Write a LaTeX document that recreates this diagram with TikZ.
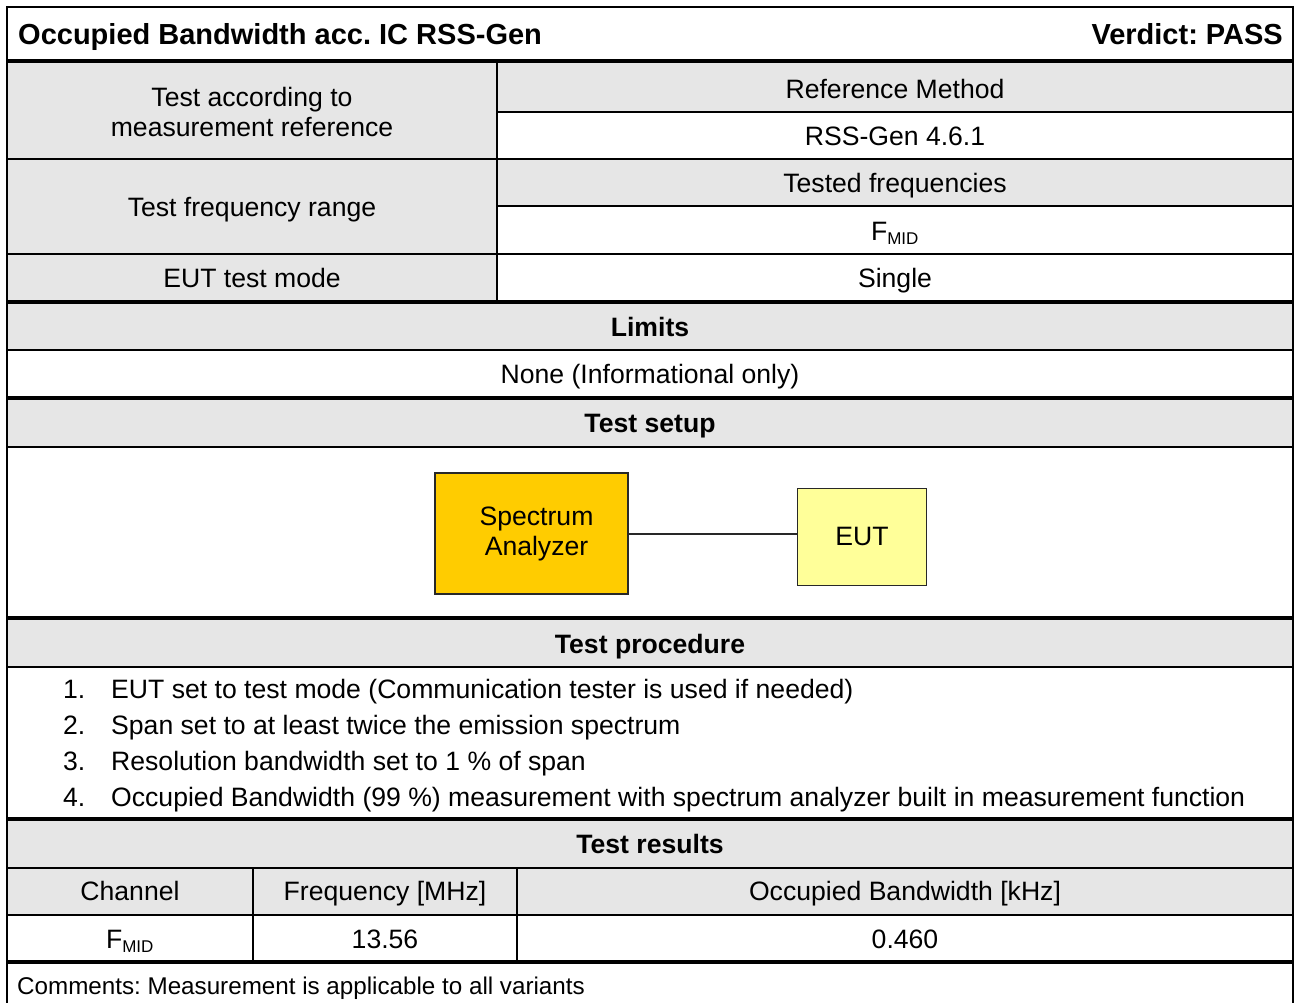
\documentclass[tikz,border=0pt]{standalone}
\usepackage{fontspec}
\setmainfont{Liberation Sans}
\frenchspacing
\definecolor{hdrgray}{RGB}{230,230,230}
\definecolor{sagold}{RGB}{255,204,0}
\definecolor{eutyellow}{RGB}{255,255,153}
\definecolor{boxline}{RGB}{40,40,40}
\begin{document}
\begin{tikzpicture}[x=1pt,y=-1pt,
  body/.style={inner sep=0pt, anchor=base, font=\fontsize{26.6}{30}\selectfont},
  bodyl/.style={body, anchor=base west},
  hdr/.style={body, font=\fontsize{26.6}{30}\selectfont\bfseries},
  ttl/.style={inner sep=0pt, font=\fontsize{29}{33}\selectfont\bfseries},
  cmt/.style={inner sep=0pt, anchor=base west, font=\fontsize{24.2}{28}\selectfont},
  thinline/.style={line width=1.8pt},
  thickline/.style={line width=3.2pt},
  colline/.style={line width=1.6pt},
  frame/.style={line width=2.6pt},
  cellfill/.style={fill=hdrgray, draw=none},
  devbox/.style={draw=boxline, line width=1.4pt, inner sep=0pt, align=center,
    font=\fontsize{26.6}{30}\selectfont},
  wire/.style={draw=boxline, line width=1.2pt}
]
\frenchspacing
\useasboundingbox (0,0) rectangle (1296,1003);
\fill[white] (0,0) rectangle (1296,1003);

% ---- gray fills ----
\path[cellfill] (7,62) rectangle (497,302);
\path[cellfill] (497,62) rectangle (1293,112);
\path[cellfill] (497,159) rectangle (1293,206);
\path[cellfill] (7,302) rectangle (1293,350);
\path[cellfill] (7,398) rectangle (1293,447);
\path[cellfill] (7,618) rectangle (1293,667);
\path[cellfill] (7,819) rectangle (1293,915);

% ---- horizontal rules ----
\draw[line width=3.6pt] (7,61) -- (1293,61);
\draw[thinline] (497,112) -- (1293,112);
\draw[thinline] (7,159) -- (1293,159);
\draw[thinline] (497,206) -- (1293,206);
\draw[thinline] (7,254) -- (1293,254);
\draw[thickline] (7,302) -- (1293,302);
\draw[thinline] (7,350) -- (1293,350);
\draw[thickline] (7,398) -- (1293,398);
\draw[thinline] (7,447) -- (1293,447);
\draw[thickline] (7,618) -- (1293,618);
\draw[thinline] (7,667) -- (1293,667);
\draw[thickline] (7,819) -- (1293,819);
\draw[thinline] (7,868) -- (1293,868);
\draw[thinline] (7,915) -- (1293,915);
\draw[thickline] (7,962) -- (1293,962);

% ---- vertical rules ----
\draw[line width=2.4pt] (497,61) -- (497,302);
\draw[colline] (253,868) -- (253,962);
\draw[colline] (517,868) -- (517,962);

% ---- outer frame ----
\draw[frame] (7,1010) -- (7,7) -- (1293,7) -- (1293,1010);

% ---- title ----
\node[ttl, anchor=base west] (title) at (18,45) {Occupied Bandwidth acc. IC RSS-Gen};
\node[ttl, anchor=base east] (verdict) at (1283,45) {Verdict: PASS};

% ---- info rows ----
\node[body] (tar1) at (252,106.5) {Test according to};
\node[body] (tar2) at (252,136.5) {measurement reference};
\node[body] (refm) at (895,98.5) {Reference Method};
\node[body] (rss) at (895,145.5) {RSS-Gen 4.6.1};
\node[body] (tfr) at (252,216.5) {Test frequency range};
\node[body] (tfq) at (895,192.5) {Tested frequencies};
\node[body] (fmid1) at (895,240.5) {F\textsubscript{\fontsize{17}{20}\selectfont MID}};
\node[body] (eutm) at (252,287.5) {EUT test mode};
\node[body] (single) at (895,287.5) {Single};

% ---- limits ----
\node[hdr] (limits) at (650,336.5) {Limits};
\node[body] (none) at (650,383.5) {None (Informational only)};

% ---- test setup ----
\node[hdr] (setup) at (650,432.5) {Test setup};
\node[devbox, fill=sagold, minimum width=193pt, minimum height=121pt] (sa) at (531.5,533.5)
  {\hspace*{10pt}Spectrum\\\hspace*{10pt}Analyzer};
\node[devbox, fill=eutyellow, minimum width=129pt, minimum height=97pt] (eut) at (862,537)
  {\raisebox{2pt}{EUT}};
\draw[wire] (sa.east |- 0,534) -- (eut.west |- 0,534);

% ---- test procedure ----
\node[hdr] (proc) at (650,653.5) {Test procedure};
\node[bodyl] (n1) at (63,698.5) {1.};
\node[bodyl] (s1) at (111,698.5) {EUT set to test mode (Communication tester is used if needed)};
\node[bodyl] (n2) at (63,734.5) {2.};
\node[bodyl] (s2) at (111,734.5) {Span set to at least twice the emission spectrum};
\node[bodyl] (n3) at (63,770.5) {3.};
\node[bodyl] (s3) at (111,770.5) {Resolution bandwidth set to 1 \% of span};
\node[bodyl] (n4) at (63,806.5) {4.};
\node[bodyl] (s4) at (111,806.5) {Occupied Bandwidth (99 \%) measurement with spectrum analyzer built in measurement function};

% ---- test results ----
\node[hdr] (res) at (650,853.5) {Test results};
\node[body] (ch) at (130,900.5) {Channel};
\node[body] (fr) at (385,900.5) {Frequency [MHz]};
\node[body] (obw) at (905,900.5) {Occupied Bandwidth [kHz]};
\node[body] (fmid2) at (130,948.5) {F\textsubscript{\fontsize{17}{20}\selectfont MID}};
\node[body] (frv) at (385,948.5) {13.56};
\node[body] (obwv) at (905,948.5) {0.460};

% ---- comments ----
\node[cmt] (comments) at (17,994.6) {Comments: Measurement is applicable to all variants};
\end{tikzpicture}
\end{document}
